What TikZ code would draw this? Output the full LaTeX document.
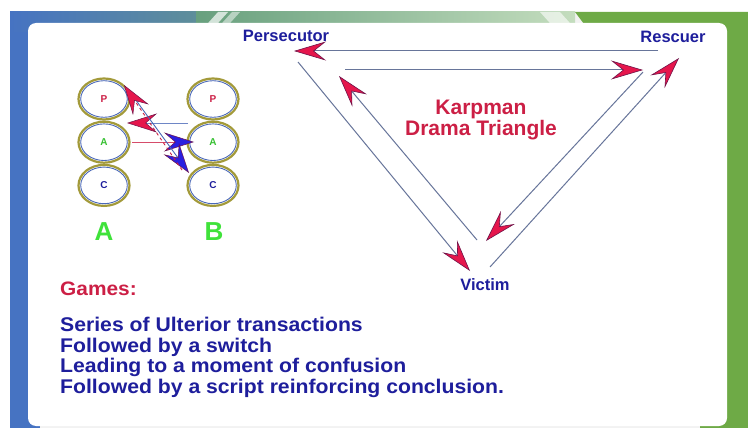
\documentclass[tikz,border=0pt]{standalone}
\usepackage{fontspec}
\setmainfont{Liberation Sans}
\newfontfamily\notesfont{Liberation Sans}[FakeStretch=1.07]
\usetikzlibrary{arrows.meta,positioning,shapes.geometric,calc}

\definecolor{bandblue}{HTML}{4673C2}
\definecolor{bandteal}{HTML}{5E8E9A}
\definecolor{bandmid}{HTML}{68A07E}
\definecolor{bandpale}{HTML}{C4DDBE}
\definecolor{bandgreen}{HTML}{6EAA46}
\definecolor{textblue}{HTML}{1E1E9C}
\definecolor{textred}{HTML}{CC1F45}
\definecolor{linegray}{HTML}{67759A}
\definecolor{tipred}{HTML}{E5164C}
\definecolor{tipedge}{HTML}{6E1248}
\definecolor{tipblue}{HTML}{2A1FE0}
\definecolor{ringgold}{HTML}{A39A3A}
\definecolor{ringblue}{HTML}{4A68B8}
\definecolor{pacgreen}{HTML}{3FE23A}

\begin{document}
\begin{tikzpicture}[
    x=1pt, y=-1pt,
    rolelabel/.style={
        font=\bfseries\fontsize{16.5}{16.5}\selectfont,
        text=textblue,
        inner sep=0pt
    },
    ego/.style={
        ellipse,
        draw=ringgold,
        line width=2.2pt,
        fill=white,
        minimum width=51pt,
        minimum height=41pt,
        inner sep=0pt,
        font=\bfseries\fontsize{10}{10}\selectfont
    },
    person/.style={
        font=\bfseries\fontsize{26}{26}\selectfont,
        text=pacgreen,
        inner sep=0pt
    },
    swap/.style={
        draw=linegray,
        line width=1pt,
        -{Stealth[length=32pt,width=19pt,inset=12pt,color=tipedge,fill=tipred,line width=0.6pt]}
    },
    deal/.style={
        line width=0.9pt,
        -{Stealth[length=30pt,width=19pt,inset=11pt,color=tipedge,fill=#1,line width=0.5pt]}
    }
]
    \useasboundingbox (0,0) rectangle (748,428);

    % Backdrop: coloured frame and white card
    \fill[white] (0,0) rectangle (748,428);
    \fill[black!5] (10,12) rectangle (748,428);
    \fill[bandblue] (10,12) rectangle (40,428);
    \fill[bandgreen] (700,12) rectangle (748,428);
    \shade[left color=bandblue, right color=bandteal] (10,12) rectangle (196,32);
    \shade[left color=bandmid, right color=bandpale] (196,12) rectangle (575,32);
    \fill[white, opacity=0.7] (200,32) -- (218,12) -- (228,12) -- (210,32) -- cycle;
    \fill[white, opacity=0.5] (214,32) -- (232,12) -- (240,12) -- (222,32) -- cycle;
    \fill[white, opacity=0.6] (540,12) -- (560,12) -- (578,32) -- (558,32) -- cycle;
    \fill[bandgreen] (575,12) -- (748,12) -- (748,32) -- (590,32) -- cycle;
    \fill[white, rounded corners=8pt] (28,23) rectangle (727,426);

    % Drama triangle roles
    \node[rolelabel] (persecutor) at (286,36) {Persecutor};
    \node[rolelabel] (rescuer) at (673,37) {Rescuer};
    \node[rolelabel] (victim) at (485,285) {Victim};
    \node[font=\bfseries\fontsize{21}{20.5}\selectfont, text=textred, align=center] (title) at (481,120) {Karpman\\Drama Triangle};

    % Arrow end points
    \coordinate (rTop) at (658,51);
    \coordinate (pTop) at (294,51);
    \coordinate (pIn) at (345,70);
    \coordinate (rIn) at (643,70);
    \coordinate (pOut) at (298,62);
    \coordinate (vLeft) at (470,271);
    \coordinate (vIn) at (477,240);
    \coordinate (pArr) at (339,76);
    \coordinate (rArr) at (643,72);
    \coordinate (vArr) at (486,241);
    \coordinate (vOut) at (490,267);
    \coordinate (rOut) at (679,58);

    % Switches between roles
    \draw[swap] (rTop) -- (pTop);
    \draw[swap] (pIn) -- (rIn);
    \draw[swap] (pOut) -- (vLeft);
    \draw[swap] (vIn) -- (pArr);
    \draw[swap] (rArr) -- (vArr);
    \draw[swap] (vOut) -- (rOut);

    % Ego states of A and B
    \node[ego] (aP) at (104,99) {\color{textred}P};
    \node[ego, below=0pt of aP] (aA) {\color{pacgreen!85!black}A};
    \node[ego, below=0pt of aA] (aC) {\color{textblue}C};
    \node[ego] (bP) at (213,99) {\color{textred}P};
    \node[ego, below=0pt of bP] (bA) {\color{pacgreen!85!black}A};
    \node[ego, below=0pt of bA] (bC) {\color{textblue}C};
    \foreach \n in {aP,aA,aC,bP,bA,bC}
        \draw[ringblue, line width=0.9pt] (\n.center) ellipse (23.3 and 18.3);

    \node[person] (pa) at (104,232) {A};
    \node[person] (pb) at (214,232) {B};

    % Transactions
    \coordinate (bTop) at (188,123);
    \coordinate (aTop) at (127,123);
    \coordinate (aMid) at (132,142);
    \coordinate (bMid) at (194,142);
    \coordinate (aDiag) at (130,92);
    \coordinate (bDiag) at (189,173);
    \coordinate (bDiag2) at (182,170);
    \coordinate (aDiag2) at (124,85);

    \draw[deal=tipred, draw=ringblue!80] (bTop) -- (aTop);
    \draw[deal=tipblue, draw=textred!80] (aMid) -- (bMid);
    \draw[deal=tipblue, draw=ringblue] (aDiag) -- (bDiag);
    \draw[deal=tipred, draw=textred, dashed] (bDiag2) -- (aDiag2);

    % Notes
    \node[anchor=west, inner sep=0pt, font=\notesfont\bfseries\fontsize{19.5}{19.5}\selectfont, text=textred] (games) at (60,289) {Games:};
    \node[anchor=north west, inner sep=0pt, align=left, text=textblue,
          font=\notesfont\bfseries\fontsize{19.8}{20.7}\selectfont] (notes) at (60,317)
        {Series of Ulterior transactions\\
         Followed by a switch\\
         Leading to a moment of confusion\\
         Followed by a script reinforcing conclusion.};
\end{tikzpicture}
\end{document}
